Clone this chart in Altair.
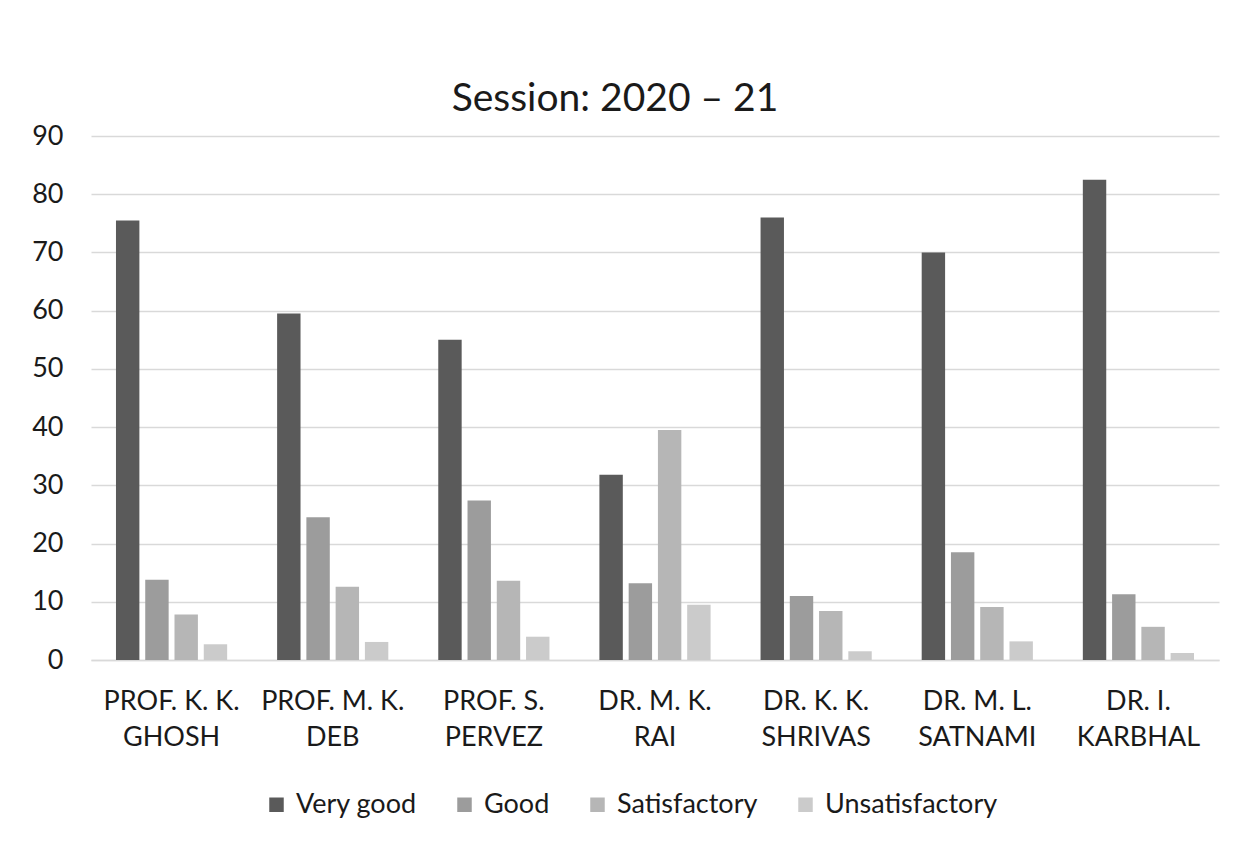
import altair as alt
import pandas as pd

teachers = ["PROF. K. K. GHOSH", "PROF. M. K. DEB", "PROF. S. PERVEZ", "DR. M. K. RAI",
            "DR. K. K. SHRIVAS", "DR. M. L. SATNAMI", "DR. I. KARBHAL"]
ratings = ["Very good", "Good", "Satisfactory", "Unsatisfactory"]
very_good = [75.5, 59.5, 55.0, 31.8, 76.0, 70.0, 82.5]
good = [13.8, 24.5, 27.4, 13.2, 11.0, 18.5, 11.3]
satisfactory = [7.8, 12.6, 13.6, 39.5, 8.4, 9.1, 5.7]
unsatisfactory = [2.7, 3.1, 4.0, 9.5, 1.5, 3.2, 1.2]
colors = ["#5a5a5a", "#9c9c9c", "#b6b6b6", "#cbcbcb"]

rows = []
for series, vals in zip(ratings, [very_good, good, satisfactory, unsatisfactory]):
    for t, v in zip(teachers, vals):
        rows.append({"teacher": t, "rating": series, "value": v})
df = pd.DataFrame(rows)

FONT = "Lato"

chart = alt.Chart(df).mark_bar().encode(
    x=alt.X("teacher:N", sort=teachers, title=None,
            scale=alt.Scale(paddingInner=0.31, paddingOuter=0.155),
            axis=alt.Axis(labelAngle=0, ticks=False, domain=True, domainColor="#d9d9d9",
                          domainWidth=1.5, labelFont=FONT, labelFontSize=27,
                          labelColor="#1a1a1a", labelPadding=28, labelLineHeight=36,
                          labelLimit=0,
                          labelExpr="[slice(datum.label, 0, lastindexof(datum.label, ' ')), slice(datum.label, lastindexof(datum.label, ' ') + 1)]")),
    xOffset=alt.XOffset("rating:N", sort=ratings,
                        scale=alt.Scale(paddingInner=0.2, paddingOuter=0)),
    y=alt.Y("value:Q", title=None,
            scale=alt.Scale(domain=[0, 90], nice=False),
            axis=alt.Axis(values=list(range(0, 91, 10)), ticks=False, domain=False,
                          gridColor="#d9d9d9", gridWidth=1.5, labelFont=FONT,
                          labelFontSize=27, labelColor="#1a1a1a", labelPadding=28)),
    color=alt.Color("rating:N", sort=ratings,
                    scale=alt.Scale(domain=ratings, range=colors),
                    legend=alt.Legend(title=None, orient="none", direction="horizontal",
                                      legendX=172, legendY=655, symbolType="square",
                                      symbolSize=210, symbolStrokeWidth=0,
                                      labelFont=FONT, labelFontSize=27, labelColor="#1a1a1a",
                                      labelLimit=0, columnPadding=34, labelOffset=6)),
).properties(
    width=1128, height=524,
    title=alt.TitleParams("Session: 2020 – 21", font=FONT, fontSize=39, fontWeight="normal",
                          color="#1a1a1a", anchor="middle", offset=3, dx=-40),
    autosize=alt.AutoSizeParams(type="none"),
    padding={"left": 83, "top": 128, "right": 9, "bottom": 170},
    background="white",
).configure_view(stroke="transparent", strokeWidth=0)

chart.save("out.html", embed_options={"renderer": "svg", "actions": False})
